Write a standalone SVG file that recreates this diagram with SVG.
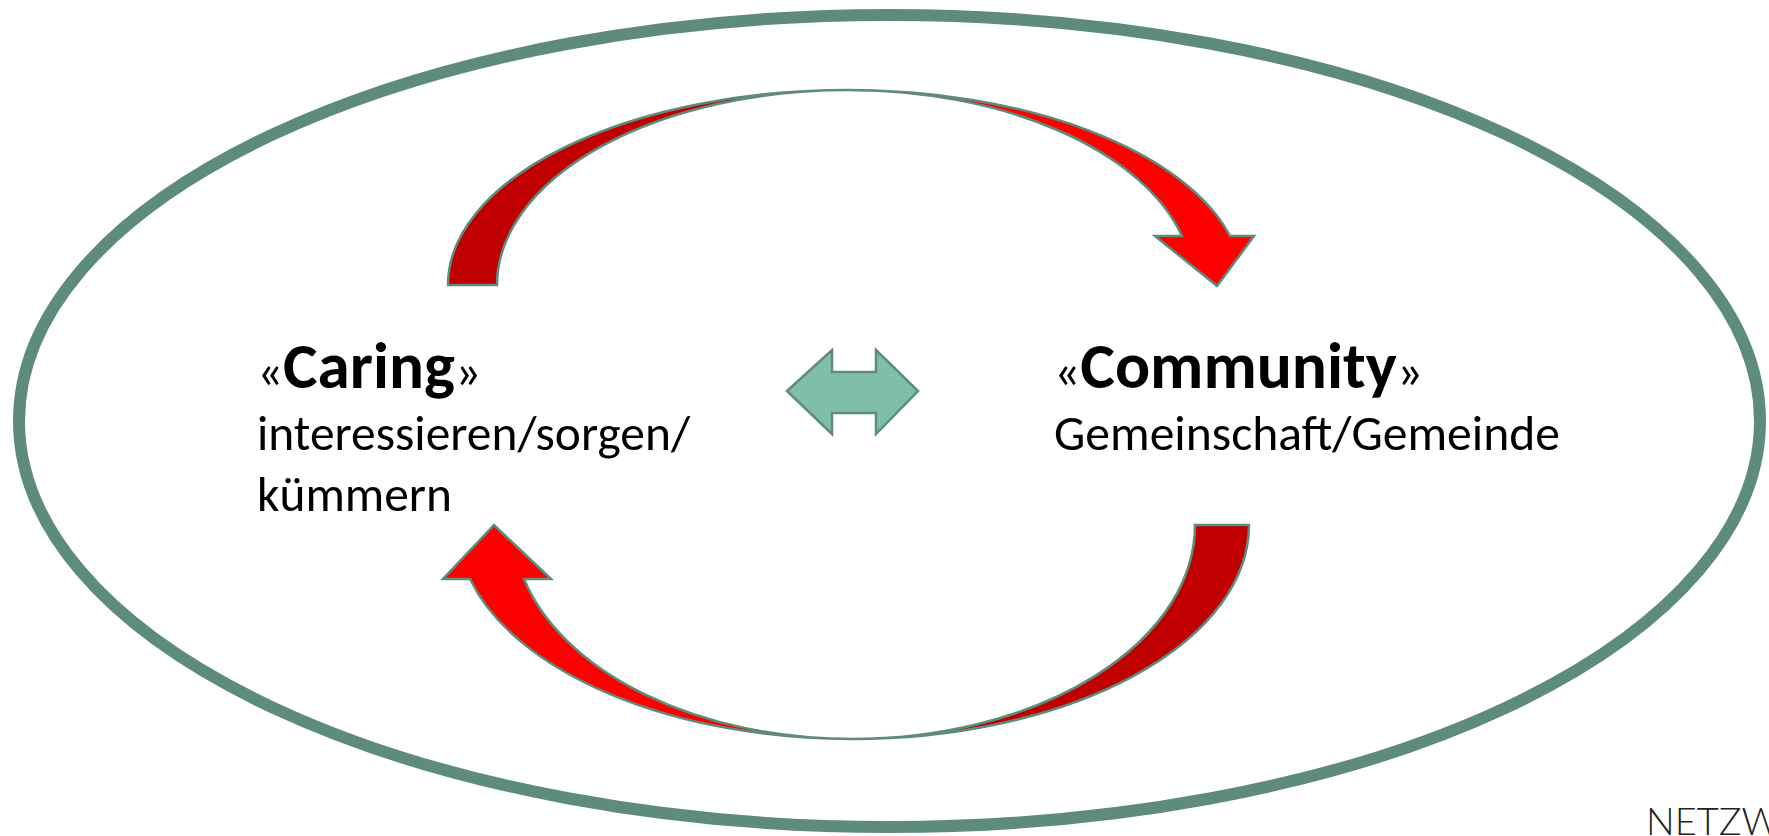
<svg xmlns="http://www.w3.org/2000/svg" width="1769" height="836" viewBox="0 0 1769 836">
<defs>
<style>
.frame{fill:none;stroke:#5E8C7A;stroke-width:12}
.back{fill:#C00000;stroke:#5E8C7A;stroke-width:2.5;stroke-linejoin:miter}
.front{fill:#FF0000;stroke:#5E8C7A;stroke-width:2.5;stroke-linejoin:miter}
.dbl{fill:#7FBFA8;stroke:#5E8C7A;stroke-width:2.5}
.t{font-family:Carlito,Calibri,Lato,"Liberation Sans",sans-serif;fill:#000;font-size:50px}
.b{font-weight:bold;font-size:64px}
.logo{font-family:Lato,"Open Sans",sans-serif;font-weight:300;font-size:38px;fill:#222}
</style>
</defs>
<rect width="1769" height="836" fill="#fff"/>
<g id="frame">
<ellipse class="frame" cx="889.5" cy="421" rx="870.5" ry="406"/>
</g>
<g id="connectors">
<g id="arrow-top">
<path class="back" d="M 448,285 A 400,195 0 0 1 848,90 A 351,195 0 0 0 497,285 Z"/>
<path class="front" d="M 848,90 A 395,195 0 0 1 1230,236 L 1254,236 L 1217,286 L 1155,236 L 1182,236 A 345,195 0 0 0 848,90 Z"/>
</g>
<g id="arrow-bottom">
<path class="back" d="M 1249,525 A 397,214 0 0 1 852,739 A 343,214 0 0 0 1195,525 Z"/>
<path class="front" d="M 852,739 A 395,214 0 0 1 470,579 L 443,579 L 494,525 L 551,579 L 524,579 A 339,214 0 0 0 852,739 Z"/>
</g>
<g id="arrow-both">
<path class="dbl" d="M 787,391 L 832,350 L 832,372 L 876,372 L 876,350 L 918,391 L 876,434 L 876,413 L 832,413 L 832,434 Z"/>
</g>
</g>
<g id="caring">
<text class="t" x="257" y="388" textLength="224" lengthAdjust="spacingAndGlyphs">«<tspan class="b">Caring</tspan>»</text>
<text class="t" x="257" y="450" textLength="433" lengthAdjust="spacingAndGlyphs">interessieren/sorgen/</text>
<text class="t" x="257" y="511" textLength="195" lengthAdjust="spacingAndGlyphs">kümmern</text>
</g>
<g id="community">
<text class="t" x="1054" y="388" textLength="369" lengthAdjust="spacingAndGlyphs">«<tspan class="b">Community</tspan>»</text>
<text class="t" x="1054" y="450" textLength="506" lengthAdjust="spacingAndGlyphs">Gemeinschaft/Gemeinde</text>
</g>
<g id="logo">
<text class="logo" x="1646" y="835">NETZW</text>
</g>
</svg>
